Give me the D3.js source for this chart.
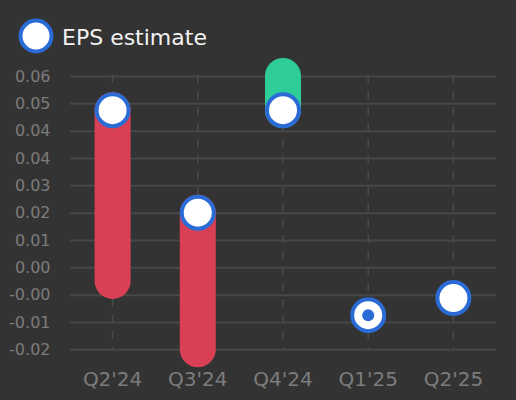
<!DOCTYPE html>
<html>
<head>
<meta charset="utf-8">
<script src="https://cdn.jsdelivr.net/npm/d3@7"></script>
<style>
  html, body { margin: 0; padding: 0; background: #333333; }
  svg { display: block; font-family: "DejaVu Sans", sans-serif; }
</style>
</head>
<body>
<svg width="516" height="400"></svg>
<script>
// quarters, EPS estimates and reported EPS (null = not reported yet)
const quarters = ["Q2'24", "Q3'24", "Q4'24", "Q1'25", "Q2'25"];
const estimates = [0.05, 0.02, 0.05, -0.01, -0.005];
const actuals = [0.00, -0.02, 0.06, null, null];
const nextReport = "Q1'25";
const yTicks = [0.06, 0.052, 0.044, 0.036, 0.028, 0.020, 0.012, 0.004, -0.004, -0.012, -0.020];

const svg = d3.select("svg");
const plotLeft = 70, plotRight = 496, plotTop = 76, plotBottom = 349.3;

const x = d3.scalePoint().domain(quarters).range([plotLeft, plotRight]).padding(0.5);
const y = d3.scaleLinear().domain([-0.02, 0.06]).range([plotBottom, plotTop]);

// horizontal grid
svg.append("g")
  .attr("transform", `translate(${plotLeft},0)`)
  .call(d3.axisLeft(y).tickValues(yTicks).tickSize(-(plotRight - plotLeft)).tickFormat(""))
  .call(g => g.select(".domain").remove())
  .call(g => g.selectAll("line").attr("stroke", "#474747").attr("stroke-width", 2));

// y labels
svg.append("g")
  .attr("transform", `translate(${plotLeft},0)`)
  .call(d3.axisLeft(y).tickValues(yTicks).tickSize(0).tickPadding(19.5).tickFormat(v => v.toFixed(2)))
  .call(g => g.select(".domain").remove())
  .call(g => g.selectAll("text")
    .attr("fill", "#7c7c7c")
    .attr("font-size", 16)
    .attr("font-family", "DejaVu Sans, sans-serif")
    .attr("dy", "0.33em"));

// vertical dashed grid
svg.append("g").selectAll("line")
  .data(quarters)
  .join("line")
  .attr("x1", d => x(d)).attr("x2", d => x(d))
  .attr("y1", plotTop - 1).attr("y2", plotBottom)
  .attr("stroke", "#4a4a4a")
  .attr("stroke-width", 1.5)
  .attr("stroke-dasharray", "8,8");

// x labels
svg.append("g").selectAll("text")
  .data(quarters)
  .join("text")
  .attr("x", d => x(d))
  .attr("y", 386)
  .attr("text-anchor", "middle")
  .attr("fill", "#7c7c7c")
  .attr("font-size", 20)
  .text(d => d);

const rows = quarters.map((q, i) => ({ q, est: estimates[i], act: actuals[i] }));

// surprise bars from estimate to actual
svg.append("g").selectAll("line")
  .data(rows.filter(d => d.act !== null))
  .join("line")
  .attr("x1", d => x(d.q)).attr("x2", d => x(d.q))
  .attr("y1", d => y(d.est)).attr("y2", d => y(d.act))
  .attr("stroke", d => d.act >= d.est ? "#2ecc98" : "#d94055")
  .attr("stroke-width", 36)
  .attr("stroke-linecap", "round");

// estimate markers
svg.append("g").selectAll("circle")
  .data(rows)
  .join("circle")
  .attr("cx", d => x(d.q))
  .attr("cy", d => y(d.est))
  .attr("r", 16)
  .attr("fill", "#ffffff")
  .attr("stroke", "#2b6bd6")
  .attr("stroke-width", 4);

svg.append("circle")
  .attr("cx", x(nextReport))
  .attr("cy", y(estimates[quarters.indexOf(nextReport)]))
  .attr("r", 6)
  .attr("fill", "#2b6bd6");

// legend
svg.append("circle")
  .attr("cx", 36).attr("cy", 36).attr("r", 15.5)
  .attr("fill", "#ffffff")
  .attr("stroke", "#2b6bd6")
  .attr("stroke-width", 4);
svg.append("text")
  .attr("x", 62).attr("y", 45)
  .attr("fill", "#f2f2f2")
  .attr("font-size", 22)
  .text("EPS estimate");
</script>
</body>
</html>
